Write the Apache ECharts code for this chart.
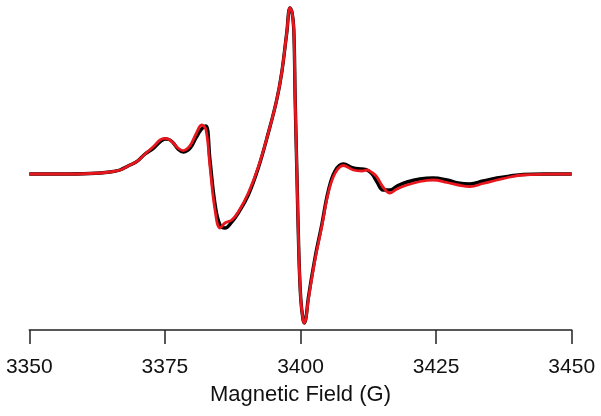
<!DOCTYPE html>
<html>
<head>
<meta charset="utf-8">
<script src="https://cdn.jsdelivr.net/npm/echarts@6/dist/echarts.min.js"></script>
<style>
  html, body { margin: 0; padding: 0; background: #fff; }
  #main { width: 601px; height: 416px; }
</style>
</head>
<body>
<div id="main"></div>
<script>
// field values (G)
var field = [3350, 3355.66, 3361.19, 3364.88, 3366.72, 3368.20, 3369.80, 3371.33, 3372.86, 3374.10,
  3375.02, 3375.76, 3376.55, 3377.42, 3378.39, 3379.26, 3379.94, 3380.73, 3381.78, 3382.58,
  3383.31, 3384.24, 3385.16, 3386.08, 3387.32, 3388.53, 3390.38, 3392.22, 3394.06, 3395.61,
  3396.53, 3397.46, 3398.06, 3398.43, 3398.76, 3399.02, 3399.34, 3399.70, 3400.05, 3400.45,
  3400.70, 3401.01, 3401.44, 3402.67, 3403.91, 3405.12, 3406.36, 3407.89, 3409.73, 3411.34,
  3412.26, 3413.18, 3414.10, 3415.21, 3416.50, 3417.79, 3419.64, 3422.03, 3424.43, 3427.01,
  3429.04, 3431.25, 3433.65, 3436.23, 3438.63, 3441.03, 3445.08, 3450];

// simulated spectrum (red)
var simSignal = [0, 0, 0.5, 2, 4, 8, 12.3, 20, 27.3, 34,
  35.7, 34.5, 31, 26, 23.3, 26, 31, 40, 49, 44,
  7.3, -36, -54, -49, -46, -38, -19, 7, 41, 74,
  101, 141, 166, 162, 145, 74, 0, -80, -125, -145,
  -149, -144, -126, -86, -53, -19, 0.7, 8.5, 4, 3,
  4, 1.5, -3, -13, -19, -15, -11, -7.5, -6, -8.5,
  -11, -12.7, -9.5, -6, -3, -1, -0.2, 0];

// experimental spectrum (black)
var expSignal = [0, 0, 0.5, 2, 4, 8, 12.3, 20, 25.5, 32,
  35, 34.5, 31, 25, 22, 24, 28, 36, 45, 48,
  14, -30, -51, -54, -48, -39, -21, 6, 41, 74,
  101, 141, 166, 162, 145, 74, 0, -80, -125, -145,
  -149, -144, -124, -84, -51, -17, 3, 10, 6, 5,
  4, 0, -8, -16, -16, -12, -8, -5, -4, -6,
  -9, -10, -7, -4, -2, -0.5, 0, 0];

var xTicks = { min: 3350, max: 3450, step: 25 };

function pairs(xs, ys) {
  return xs.map(function (x, i) { return [x, ys[i]]; });
}

var myChart = echarts.init(document.getElementById('main'));
var option = {
  backgroundColor: '#ffffff',
  animation: false,
  grid: { left: 29.3, right: 29.3, top: 4, bottom: 86 },
  xAxis: {
    type: 'value',
    min: xTicks.min,
    max: xTicks.max,
    interval: xTicks.step,
    name: 'Magnetic Field (G)',
    nameLocation: 'middle',
    nameGap: 54,
    nameTextStyle: { color: '#111', fontSize: 22, fontFamily: 'Liberation Sans' },
    axisLine: { onZero: false, lineStyle: { color: '#222', width: 1.5 } },
    axisTick: { length: 14, lineStyle: { color: '#222', width: 1.5 } },
    axisLabel: {
      margin: 27, color: '#111', fontSize: 21, fontFamily: 'Liberation Sans',
      formatter: function (v) { return String(v); }
    },
    splitLine: { show: false }
  },
  yAxis: {
    type: 'value',
    min: -156,
    max: 170,
    show: false
  },
  series: [
    {
      name: 'experiment',
      type: 'line',
      data: pairs(field, expSignal),
      smooth: 0.4,
      showSymbol: false,
      lineStyle: { color: '#000000', width: 3.4 },
      z: 2
    },
    {
      name: 'simulation',
      type: 'line',
      data: pairs(field, simSignal),
      smooth: 0.4,
      showSymbol: false,
      lineStyle: { color: '#e8161d', width: 2.8 },
      z: 3
    }
  ]
};
myChart.setOption(option);
</script>
</body>
</html>
